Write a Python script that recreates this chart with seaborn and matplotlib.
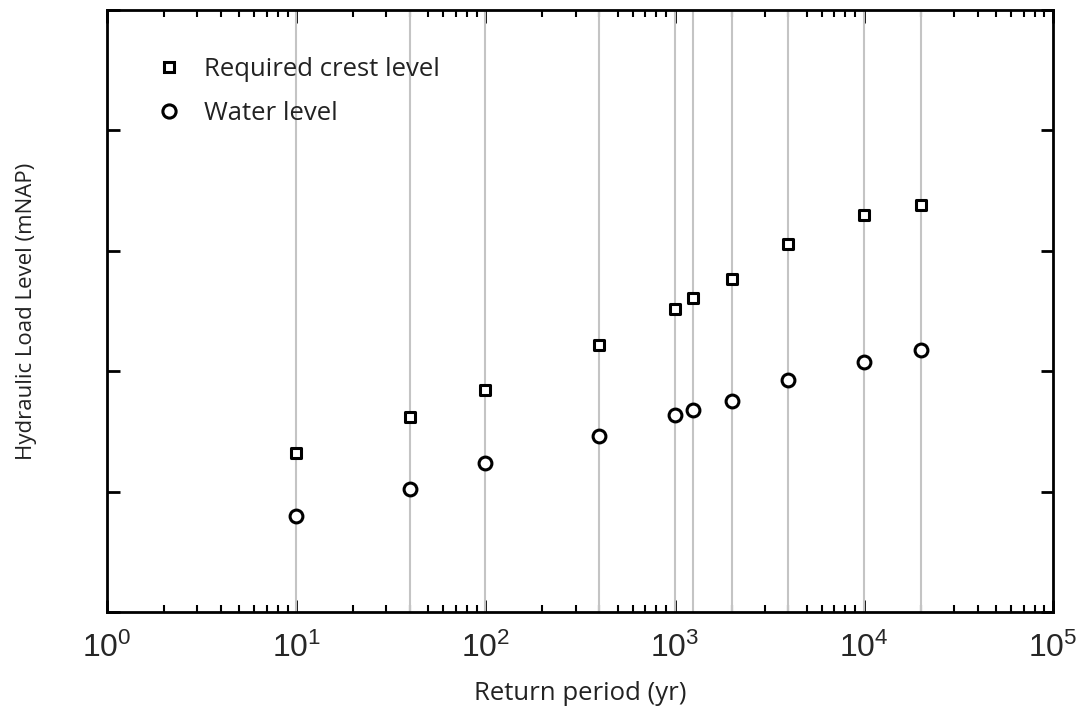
import matplotlib
matplotlib.use("Agg")
import matplotlib.pyplot as plt
import seaborn as sns
import pandas as pd
import numpy as np
from matplotlib.lines import Line2D
from matplotlib.ticker import LogLocator, NullFormatter

# Data
return_period = [10, 40, 100, 400, 1000, 1250, 2000, 4000, 10000, 20000]
crest_level = [1.32, 1.62, 1.84, 2.22, 2.52, 2.61, 2.77, 3.06, 3.30, 3.38]
water_level = [0.80, 1.02, 1.24, 1.46, 1.64, 1.68, 1.75, 1.93, 2.08, 2.18]
series_names = ["Required crest level", "Water level"]

sns.set_theme(style="white")
plt.rcParams["font.family"] = ["Open Sans", "DejaVu Sans"]

fig = plt.figure(figsize=(10.85, 7.2), dpi=100)
ax = fig.add_axes([0.0986, 0.15, 0.9705 - 0.0986, 0.986 - 0.15])

# vertical grey lines at each return period
for xv in return_period:
    ax.axvline(xv, color="#c4c4c4", lw=1.5, zorder=1)

df_c = pd.DataFrame({"x": return_period, "y": crest_level})
df_w = pd.DataFrame({"x": return_period, "y": water_level})

sns.scatterplot(data=df_c, x="x", y="y", ax=ax, marker="s", s=55,
                facecolor="white", edgecolor="black", linewidth=2.2, zorder=3)
sns.scatterplot(data=df_w, x="x", y="y", ax=ax, marker="o", s=85,
                facecolor="white", edgecolor="black", linewidth=2.2, zorder=3)

ax.set_xscale("log")
ax.set_xlim(1, 1e5)
ax.set_ylim(0, 5)
ax.set_yticks([0, 1, 2, 3, 4, 5])
ax.set_yticklabels([])
ax.xaxis.set_major_locator(LogLocator(base=10, numticks=10))
ax.xaxis.set_minor_locator(LogLocator(base=10, subs=np.arange(2, 10), numticks=20))
ax.xaxis.set_minor_formatter(NullFormatter())

for side in ["top", "bottom", "left", "right"]:
    ax.spines[side].set_visible(True)
    ax.spines[side].set_color("black")
    ax.spines[side].set_linewidth(2)

ax.tick_params(axis="both", which="major", direction="in", top=True, right=True,
               bottom=True, left=True, length=9, width=2, color="black")
ax.tick_params(axis="x", which="minor", direction="in", top=True, bottom=True,
               length=5, width=1.5, color="black")
ax.tick_params(axis="x", which="major", labelsize=23, pad=15)
for lab in ax.get_xticklabels():
    lab.set_fontfamily(["Liberation Sans", "DejaVu Sans"])

ax.set_xlabel("Return period (yr)", fontsize=18.5, color="#222222")
ax.xaxis.set_label_coords(0.5, -0.115)
ax.set_ylabel("Hydraulic Load Level (mNAP)", fontsize=16, color="#222222")
ax.yaxis.set_label_coords(-0.074, 0.5)

handles = [
    Line2D([], [], marker="s", linestyle="none", markersize=7.5, markerfacecolor="white",
           markeredgecolor="black", markeredgewidth=2.2),
    Line2D([], [], marker="o", linestyle="none", markersize=9.5, markerfacecolor="white",
           markeredgecolor="black", markeredgewidth=2.2),
]
leg = ax.legend(handles, series_names, loc="upper left", bbox_to_anchor=(0.028, 0.96),
                frameon=False, fontsize=18.5, handletextpad=0.85, labelspacing=0.72,
                handlelength=1.0)
for t in leg.get_texts():
    t.set_color("#222222")

fig.savefig("out.png", dpi=100)
